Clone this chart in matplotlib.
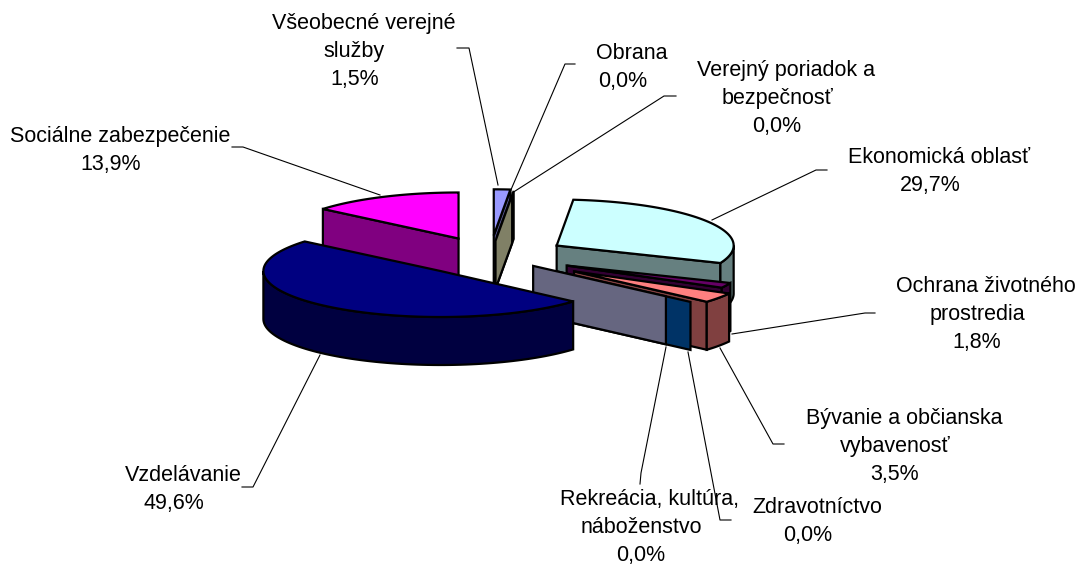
import numpy as np
import matplotlib
matplotlib.use("Agg")
import matplotlib.pyplot as plt
from matplotlib.patches import Polygon

plt.rcParams['font.family'] = ['Liberation Sans', 'DejaVu Sans']

categories = ["Všeobecné verejné\nslužby", "Obrana", "Verejný poriadok a\nbezpečnosť", "Ekonomická oblasť",
              "Ochrana životného\nprostredia", "Bývanie a občianska\nvybavenosť", "Zdravotníctvo",
              "Rekreácia, kultúra,\nnáboženstvo", "Vzdelávanie", "Sociálne zabezpečenie"]
values = [1.5, 0.0, 0.0, 29.7, 1.8, 3.5, 0.0, 0.0, 49.6, 13.9]
colors = ["#9999FF", "#993366", "#FFFFCC", "#CCFFFF", "#660066", "#FF8080", "#0066CC", "#CCCCFF", "#000080", "#FF00FF"]
explode = [0.45, 0.42, 0.33, 0.44, 0.48, 0.58, 0.51, 0.325, 0.43, 0.42]
# x = centre of the lower lines, y = baseline of the middle of the block
label_xy = [(354.5, 57), (622.5, 73), (777, 104), (930, 177), (977, 320), (895, 452), (808, 527), (641, 533), (174, 495), (111, 156)]
FIRST_LINE_DX = 9
leaders = [[(457, 48), (469, 48), (498, 185)], [(575, 64), (565, 64), (510, 192)], [(676, 96), (664, 96), (512, 193)],
           [(827, 170), (816, 170), (712, 220)], [(875, 313), (865, 313), (732, 334)], [(784, 444), (773, 444), (720, 348)],
           [(731, 520), (720, 520), (688, 352)], [(640, 484), (641, 473), (666, 347)], [(242, 487), (253, 487), (320, 355)],
           [(232, 147), (243, 147), (380, 195)]]

CX, CY, A, B, DEPTH = 490, 256, 177, 46, 48
LW = 1.6
FS = 15.5
LINE_H = 27.6

def shade(c):
    return tuple(x * 0.5 for x in matplotlib.colors.to_rgb(c))

fig = plt.figure(figsize=(10.85, 5.64), dpi=100)
ax = fig.add_axes([0, 0, 1, 1])
ax.set_xlim(0, 1085)
ax.set_ylim(564, 0)
ax.axis('off')

edges = np.concatenate([[0], np.cumsum(values)]) / sum(values) * 2 * np.pi

def pt(t, ox, oy):
    return ox + A * np.sin(t), oy - B * np.cos(t)

def draw(i, z):
    t0, t1 = edges[i], edges[i + 1]
    mid = (t0 + t1) / 2
    ox = CX + explode[i] * A * np.sin(mid)
    oy = CY - explode[i] * B * np.cos(mid)
    side = shade(colors[i])
    kw = dict(edgecolor='k', lw=LW, joinstyle='miter', zorder=z)
    if np.pi < t0 % (2 * np.pi) < 2 * np.pi:
        x, y = pt(t0, ox, oy)
        ax.add_patch(Polygon([(ox, oy), (x, y), (x, y + DEPTH), (ox, oy + DEPTH)], facecolor=side, **kw))
    if 0 < t1 < np.pi:
        x, y = pt(t1, ox, oy)
        ax.add_patch(Polygon([(ox, oy), (x, y), (x, y + DEPTH), (ox, oy + DEPTH)], facecolor=side, **kw))
    lo, hi = max(t0, np.pi / 2), min(t1, 3 * np.pi / 2)
    if hi > lo:
        ts = np.linspace(lo, hi, 80)
        x, y = pt(ts, ox, oy)
        ax.add_patch(Polygon(np.r_[np.c_[x, y], np.c_[x, y + DEPTH][::-1]], facecolor=side, **kw))
    if t1 > t0:
        ts = np.linspace(t0, t1, 120)
        x, y = pt(ts, ox, oy)
        ax.add_patch(Polygon(np.r_[[(ox, oy)], np.c_[x, y]], facecolor=colors[i], **kw))

order = [9, 0, 1, 2, 3, 4, 5, 6, 7, 8]
for z, i in enumerate(order):
    draw(i, 3 + z)

for name, v, xy, ln in zip(categories, values, label_xy, leaders):
    pct = f"{v:.1f}%".replace('.', ',')
    lines = f"{name}\n{pct}".split("\n")
    for j, s in enumerate(lines):
        y = xy[1] + (j - (len(lines) - 1) / 2) * LINE_H
        dx = FIRST_LINE_DX if j == 0 else 0
        ax.text(xy[0] + dx, y, s, ha='center', va='baseline', fontsize=FS, color='k', zorder=30)
    ax.plot(*zip(*ln), color='k', lw=0.8, zorder=2)

fig.savefig("out.png", dpi=100)
